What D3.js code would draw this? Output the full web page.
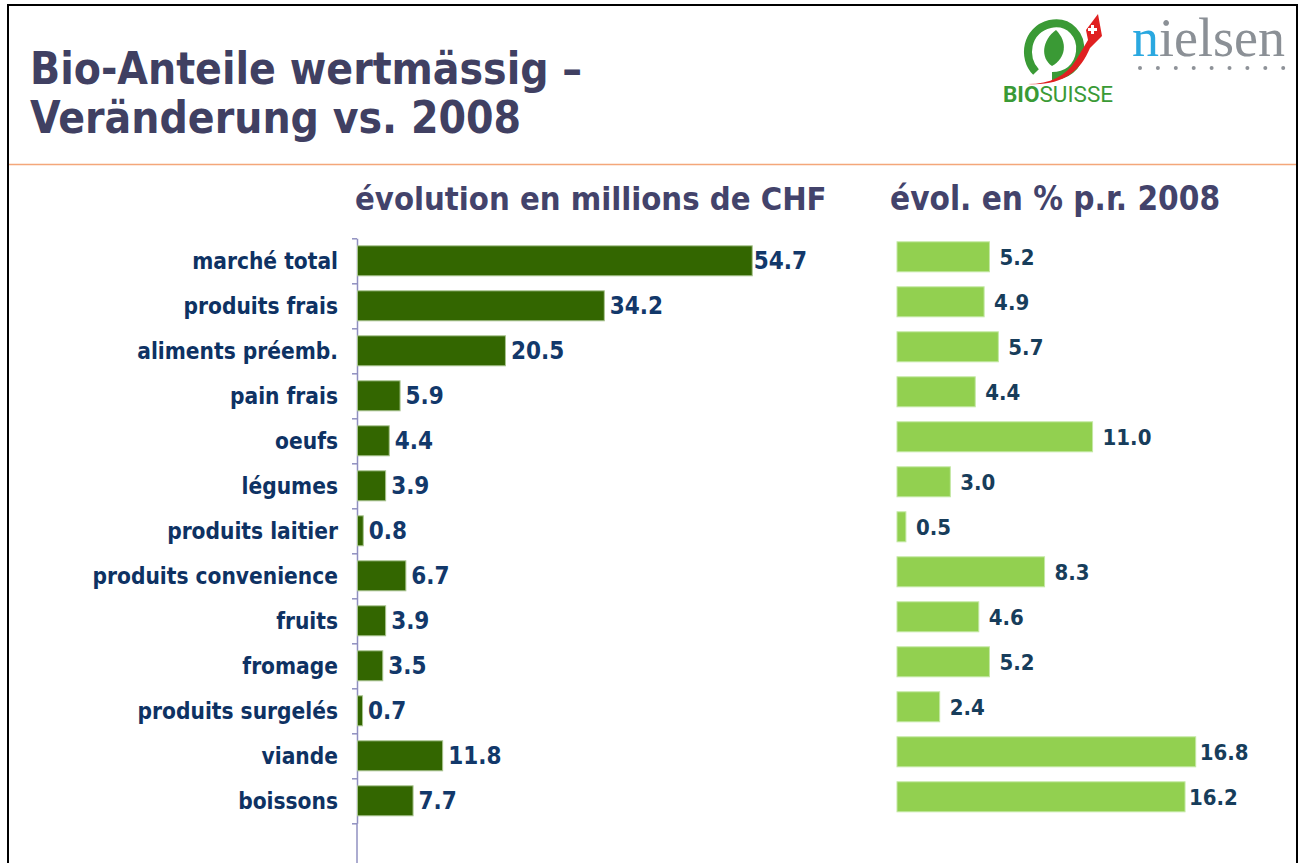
<!DOCTYPE html>
<html>
<head>
<meta charset="utf-8">
<script src="https://cdn.jsdelivr.net/npm/d3@7"></script>
<style>
  html, body { margin: 0; padding: 0; background: #fff; }
  svg { display: block; }
  text { font-family: "DejaVu Sans Condensed", "DejaVu Sans", Verdana, sans-serif; font-weight: bold; }
</style>
</head>
<body>
<svg width="1300" height="863"></svg>
<script>
const categories = ["marché total", "produits frais", "aliments préemb.", "pain frais", "oeufs", "légumes",
    "produits laitier", "produits convenience", "fruits", "fromage", "produits surgelés", "viande", "boissons"];
const chfValues = [54.7, 34.2, 20.5, 5.9, 4.4, 3.9, 0.8, 6.7, 3.9, 3.5, 0.7, 11.8, 7.7];
const pctValues = [5.2, 4.9, 5.7, 4.4, 11.0, 3.0, 0.5, 8.3, 4.6, 5.2, 2.4, 16.8, 16.2];
const titleLines = ["Bio-Anteile wertmässig –", "Veränderung vs. 2008"];
const leftHeader = "évolution en millions de CHF";
const rightHeader = "évol. en % p.r. 2008";

const svg = d3.select("svg");

// frame + orange separator
svg.append("rect")
    .attr("x", 8).attr("y", 5).attr("width", 1289).attr("height", 900)
    .attr("fill", "none").attr("stroke", "#000").attr("stroke-width", 2);
svg.append("line")
    .attr("x1", 9).attr("x2", 1296).attr("y1", 164.5).attr("y2", 164.5)
    .attr("stroke", "#f4a77a").attr("stroke-width", 1.5);

// title
svg.selectAll(".title")
    .data(titleLines)
    .enter().append("text")
    .attr("class", "title")
    .attr("x", 30)
    .attr("y", (d, i) => 84 + i * 49)
    .attr("fill", "#404062")
    .style("font-size", "44px")
    .text(d => d);

// logos (decorative)
const logo = svg.append("g");
logo.append("path")
    .attr("d", "M1036,72 C1022,58 1026,30 1050,24 C1070,20 1082,36 1080,52 C1078,68 1066,76 1052,76")
    .attr("fill", "none").attr("stroke", "#3a9a35").attr("stroke-width", 8);
logo.append("path")
    .attr("d", "M1052,66 C1040,58 1042,40 1056,30 C1068,42 1066,58 1052,66 Z")
    .attr("fill", "#3a9a35");
logo.append("path")
    .attr("d", "M1028,84 C1050,84 1066,76 1076,60 L1088,40 L1086,30 L1098,14 L1102,36 L1090,48 C1080,72 1062,86 1028,84 Z")
    .attr("fill", "#e02020");
logo.append("path")
    .attr("d", "M1088,28 h3 v-3 h3 v3 h3 v3 h-3 v3 h-3 v-3 h-3 Z")
    .attr("fill", "#fff");
logo.append("text")
    .attr("x", 1003).attr("y", 102)
    .style("font-family", "Roboto, 'Liberation Sans', sans-serif")
    .style("font-size", "22.5px")
    .attr("fill", "#3a9a35")
    .call(t => {
        t.append("tspan").style("font-weight", "bold").text("BIO");
        t.append("tspan").style("font-weight", "normal").text("SUISSE");
    });
logo.append("text")
    .attr("x", 1132).attr("y", 56)
    .style("font-family", "'Liberation Serif', 'DejaVu Serif', serif")
    .style("font-weight", "normal")
    .style("font-size", "54px")
    .attr("fill", "#8b9096")
    .call(t => {
        t.append("tspan").attr("fill", "#2aa8e0").text("n");
        t.append("tspan").text("ielsen");
    });
logo.selectAll(".dot")
    .data(d3.range(9))
    .enter().append("circle")
    .attr("cx", d => 1140 + d * 17.9)
    .attr("cy", 68)
    .attr("r", 2)
    .attr("fill", "#8e9298");

// headers
svg.append("text")
    .attr("x", 355).attr("y", 210)
    .attr("fill", "#43436b")
    .style("font-size", "32.5px")
    .text(leftHeader);
svg.append("text")
    .attr("x", 890).attr("y", 210)
    .attr("fill", "#43436b")
    .style("font-size", "33px")
    .text(rightHeader);

// ---- left chart ----
const yLeft = d3.scaleBand()
    .domain(categories)
    .range([238.3, 823.3])
    .paddingInner(1 / 3)
    .paddingOuter(1 / 6);
const xLeft = d3.scaleLinear().domain([0, 60]).range([357, 790]);

const tickPos = d3.scaleLinear().domain([0, categories.length]).range([238.3, 823.3]);
const yAxis = d3.axisLeft(tickPos)
    .tickValues(d3.range(categories.length + 1))
    .tickFormat("")
    .tickSizeInner(5)
    .tickSizeOuter(0);
const axisG = svg.append("g")
    .attr("transform", "translate(357,0)")
    .call(yAxis);
axisG.selectAll("path, line").attr("stroke", "#9090c0").attr("stroke-width", 1.5);
axisG.append("line")
    .attr("y1", 823.3).attr("y2", 870)
    .attr("stroke", "#9090c0").attr("stroke-width", 1.5);

svg.selectAll(".cat")
    .data(categories)
    .enter().append("text")
    .attr("class", "cat")
    .attr("x", 338)
    .attr("y", d => yLeft(d) + yLeft.bandwidth() / 2)
    .attr("dy", "0.36em")
    .attr("text-anchor", "end")
    .attr("fill", "#0e3263")
    .style("font-size", "22.5px")
    .text(d => d);

svg.selectAll(".barL")
    .data(chfValues)
    .enter().append("rect")
    .attr("class", "barL")
    .attr("x", xLeft(0) + 0.5)
    .attr("y", (d, i) => yLeft(categories[i]))
    .attr("width", d => xLeft(d) - xLeft(0))
    .attr("height", yLeft.bandwidth())
    .attr("fill", "#336600")
    .attr("stroke", "#a9c48f")
    .attr("stroke-width", 1);

svg.selectAll(".valL")
    .data(chfValues)
    .enter().append("text")
    .attr("class", "valL")
    .attr("x", (d, i) => xLeft(d) + (i === 0 ? 2 : 6))
    .attr("y", (d, i) => yLeft(categories[i]) + yLeft.bandwidth() / 2)
    .attr("dy", "0.36em")
    .attr("fill", "#12386a")
    .style("font-size", "24px")
    .text(d => d.toFixed(1));

// ---- right chart ----
const yRight = d3.scaleBand()
    .domain(categories)
    .range([234.3, 819.3])
    .paddingInner(1 / 3)
    .paddingOuter(1 / 6);
const xRight = d3.scaleLinear().domain([0, 20]).range([897, 1252.6]);

svg.selectAll(".barR")
    .data(pctValues)
    .enter().append("rect")
    .attr("class", "barR")
    .attr("x", xRight(0))
    .attr("y", (d, i) => yRight(categories[i]))
    .attr("width", d => xRight(d) - xRight(0))
    .attr("height", yRight.bandwidth())
    .attr("fill", "#92d050")
    .attr("stroke", "#c4e8a4")
    .attr("stroke-width", 1);

svg.selectAll(".valR")
    .data(pctValues)
    .enter().append("text")
    .attr("class", "valR")
    .attr("x", d => xRight(d) + (d > 16 ? 4 : 10))
    .attr("y", (d, i) => yRight(categories[i]) + yRight.bandwidth() / 2)
    .attr("dy", "0.36em")
    .attr("fill", "#173d5b")
    .style("font-size", "22px")
    .text(d => d.toFixed(1));
</script>
</body>
</html>
